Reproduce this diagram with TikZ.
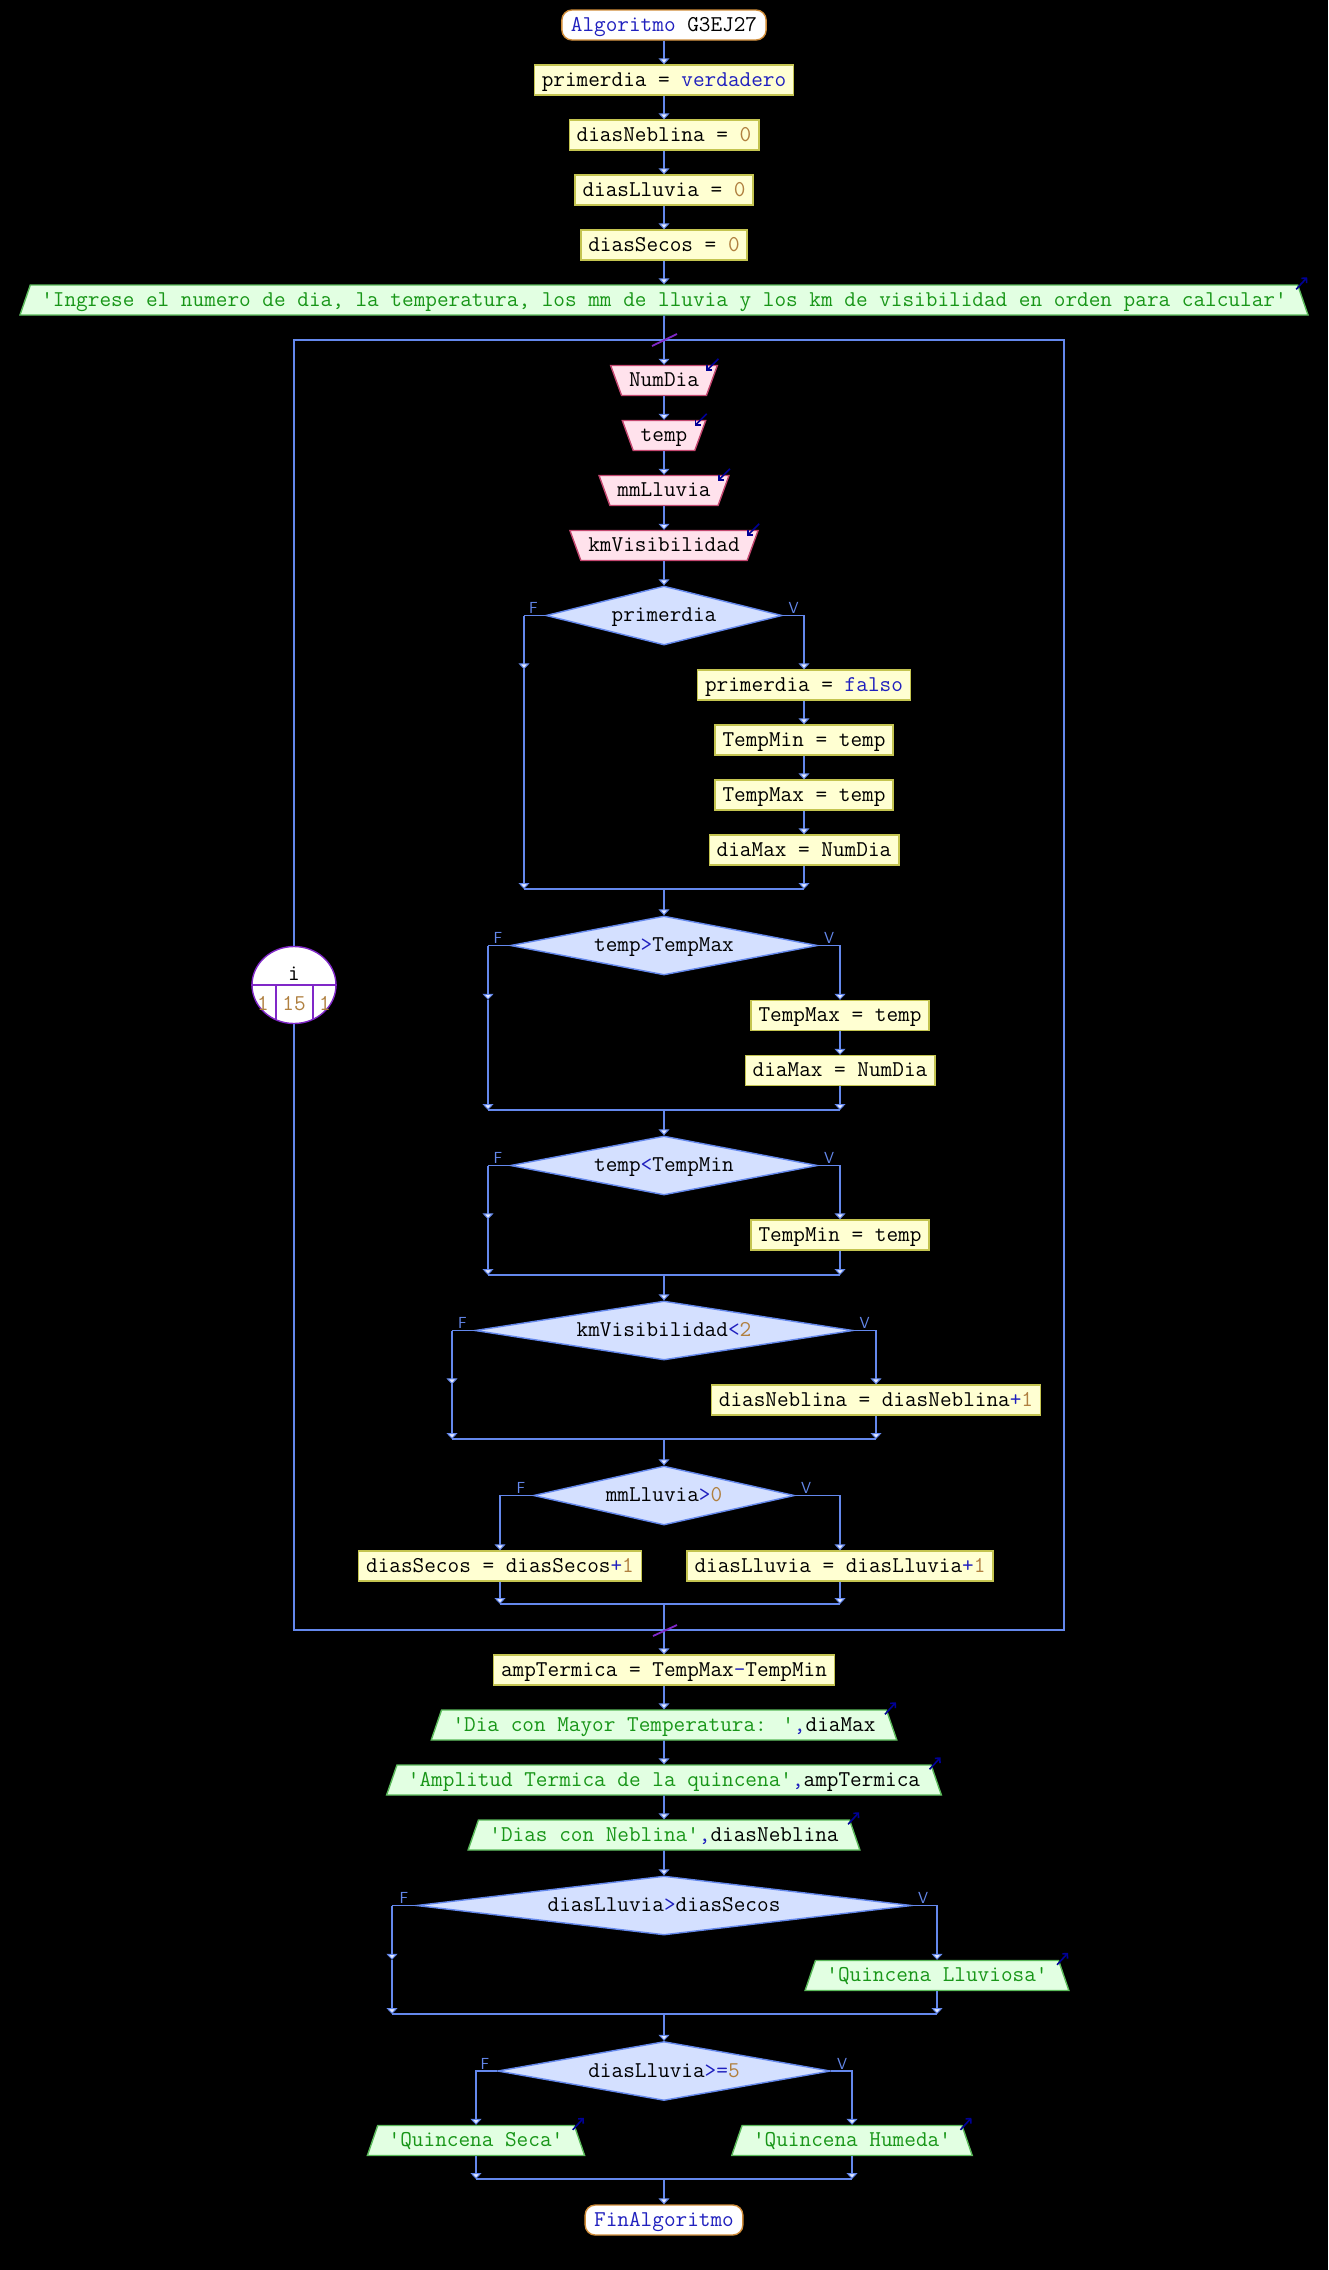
\documentclass[tikz,border=0pt]{standalone}
\usepackage{tikz}
\usetikzlibrary{arrows.meta,shapes.geometric}

\definecolor{linecol}{RGB}{100,136,236}
\definecolor{tipfill}{RGB}{225,232,255}
\definecolor{asgfill}{RGB}{255,255,210}
\definecolor{asgdraw}{RGB}{196,196,80}
\definecolor{infill}{RGB}{255,226,236}
\definecolor{indraw}{RGB}{196,72,112}
\definecolor{outfill}{RGB}{226,255,226}
\definecolor{outdraw}{RGB}{90,186,90}
\definecolor{decfill}{RGB}{212,224,255}
\definecolor{termdraw}{RGB}{208,140,56}
\definecolor{kwblue}{RGB}{32,32,190}
\definecolor{numcol}{RGB}{176,128,64}
\definecolor{strgreen}{RGB}{24,150,24}
\definecolor{loopcol}{RGB}{128,40,200}
\definecolor{iconcol}{RGB}{0,0,150}

\newcommand{\kw}[1]{\textcolor{kwblue}{#1}}
\newcommand{\nm}[1]{\textcolor{numcol}{#1}}
\newcommand{\cad}[1]{\textcolor{strgreen}{\textquotesingle#1\textquotesingle}}
\newcommand{\psfont}{\fontsize{22.6}{26}\selectfont\ttfamily}

\begin{document}
\begin{tikzpicture}[x=1pt,y=-1pt,>={Triangle[width=11pt,length=6pt,fill=tipfill,line width=1pt]},
  node distance=55pt,
  every node/.style={font=\psfont,text height=16pt,text depth=4pt},
  flow/.style={->,draw=linecol,line width=1.8pt},
  line/.style={-,draw=linecol,line width=1.8pt},
  term node/.style={rectangle,rounded corners=10pt,draw=termdraw,fill=white,line width=1.4pt,inner xsep=9pt,inner ysep=5pt},
  assign node/.style={rectangle,draw=asgdraw,fill=asgfill,line width=1.4pt,inner xsep=7.5pt,inner ysep=5pt},
  input node/.style={trapezium,shape border rotate=180,trapezium left angle=70,trapezium right angle=70,
    draw=indraw,fill=infill,line width=1.4pt,inner xsep=7.5pt,inner ysep=5pt},
  output node/.style={trapezium,trapezium left angle=71,trapezium right angle=71,
    draw=outdraw,fill=outfill,line width=1.4pt,inner xsep=11pt,inner ysep=5pt},
  fv/.style={font=\fontsize{16}{18}\selectfont\sffamily,text=linecol,inner sep=0pt},
  cond node/.style={diamond,aspect=6.3,inner sep=0pt,minimum height=59pt,draw=linecol,fill=decfill,line width=1.4pt,
    label={[fv,anchor=base,shift={(-12,-2)}]west:F},label={[fv,anchor=base,shift={(11,-2)}]east:V}},
  loop node/.style={ellipse,draw=loopcol,fill=white,line width=1.4pt,minimum width=84pt,minimum height=77pt,inner sep=0pt},
  loopline/.style={draw=loopcol,line width=1.4pt},
  tick/.style={draw=loopcol,line width=1.8pt},
  icon/.style={draw=iconcol,line width=1.6pt,-{Straight Barb[angle=90:5pt]}}]

  \path[use as bounding box,fill=black] (0,0) rectangle (1328,2270);

  % inicio
  \node[term node]   (start) at (664,25) {\kw{Algoritmo} G3EJ27};
  \node[assign node] (a1) [below of=start] {primerdia = \kw{verdadero}};
  \node[assign node] (a2) [below of=a1] {diasNeblina = \nm{0}};
  \node[assign node] (a3) [below of=a2] {diasLluvia = \nm{0}};
  \node[assign node] (a4) [below of=a3] {diasSecos = \nm{0}};
  \node[output node] (o1) [below of=a4] {\cad{Ingrese el numero de dia, la temperatura, los mm de lluvia y los km de visibilidad en orden para calcular}};

  % ciclo Para
  \coordinate (lt) at (294,340);
  \coordinate (rb) at (1064,1630);
  \coordinate (lx1) at (664,340);
  \coordinate (lx2) at (664,1630);
  \draw[line] (lt) rectangle (rb);
  \node[loop node] (lp) at (294,985) {};
  \draw[loopline] (lp.west) -- (lp.east);
  \draw[loopline] ([shift={(-18,0)}]lp.center) -- ++(0,34.8);
  \draw[loopline] ([shift={(19,0)}]lp.center) -- ++(0,34.3);
  \node (lpvar)  at (294,974)  {i};
  \node (lpini)  at (263,1004) {\nm{1}};
  \node (lpfin)  at (294,1004) {\nm{15}};
  \node (lppaso) at (325,1004) {\nm{1}};

  \node[input node] (e1) at (664,380.5) {NumDia};
  \node[input node] (e2) [below of=e1] {temp};
  \node[input node] (e3) [below of=e2] {mmLluvia};
  \node[input node] (e4) [below of=e3] {kmVisibilidad};

  \node[cond node,minimum width=236pt] (c1) at (664,615.5) {primerdia};
  \node[assign node] (r1) at (804,685) {primerdia = \kw{falso}};
  \node[assign node] (r2) [below of=r1] {TempMin = temp};
  \node[assign node] (r3) [below of=r2] {TempMax = temp};
  \node[assign node] (r4) [below of=r3] {diaMax = NumDia};

  \node[cond node,minimum width=307pt] (c2) at (664,945.5) {temp\kw{>}TempMax};
  \node[assign node] (s1) at (840,1015.5) {TempMax = temp};
  \node[assign node] (s2) [below of=s1] {diaMax = NumDia};

  \node[cond node,minimum width=307pt] (c3) at (664,1165.5) {temp\kw{<}TempMin};
  \node[assign node] (t1) at (840,1235) {TempMin = temp};

  \node[cond node,minimum width=378pt] (c4) at (664,1330.5) {kmVisibilidad\kw{<}\nm{2}};
  \node[assign node] (u1) at (876,1400) {diasNeblina = diasNeblina\kw{+}\nm{1}};

  \node[cond node,minimum width=261pt] (c5) at (664,1495.5) {mmLluvia\kw{>}\nm{0}};
  \node[assign node] (v1) at (500,1566) {diasSecos = diasSecos\kw{+}\nm{1}};
  \node[assign node] (v2) at (840,1566) {diasLluvia = diasLluvia\kw{+}\nm{1}};

  % despues del ciclo
  \node[assign node] (a5) at (664,1670) {ampTermica = TempMax\kw{-}TempMin};
  \node[output node] (o2) [below of=a5] {\cad{Dia con Mayor Temperatura: }\kw{,}diaMax};
  \node[output node] (o3) [below of=o2] {\cad{Amplitud Termica de la quincena}\kw{,}ampTermica};
  \node[output node] (o4) [below of=o3] {\cad{Dias con Neblina}\kw{,}diasNeblina};

  \node[cond node,minimum width=495pt] (c6) at (664,1905.5) {diasLluvia\kw{>}diasSecos};
  \node[output node] (w1) at (937,1975.5) {\cad{Quincena Lluviosa}};

  \node[cond node,minimum width=333pt] (c7) at (664,2071) {diasLluvia\kw{>=}\nm{5}};
  \node[output node] (x1) at (476,2140.5) {\cad{Quincena Seca}};
  \node[output node] (x2) at (852,2140.5) {\cad{Quincena Humeda}};

  \node[term node] (end) at (664,2220) {\kw{FinAlgoritmo}};

  % flechas rectas
  \path[flow] (start) edge (a1) (a1) edge (a2) (a2) edge (a3) (a3) edge (a4) (a4) edge (o1)
    (o1) edge (e1) (e1) edge (e2) (e2) edge (e3) (e3) edge (e4) (e4) edge (c1)
    (a5) edge (o2) (o2) edge (o3) (o3) edge (o4) (o4) edge (c6);

  % si primerdia
  \coordinate (f1) at (524,615.5);
  \coordinate (m1) at (664,889);
  \draw[line] (c1.west) -- (f1);
  \draw[flow] (f1) -- (f1 |- r1.north);
  \draw[flow] (f1 |- r1.north) -- (f1 |- m1);
  \draw[flow] (c1.east) -| (r1.north);
  \path[flow] (r1) edge (r2) (r2) edge (r3) (r3) edge (r4);
  \draw[flow] (r4) -- (r4 |- m1);
  \draw[line] (f1 |- m1) -- (r4 |- m1);
  \draw[flow] (m1) -- (c2);

  % si temp>TempMax
  \coordinate (f2) at (488,945.5);
  \coordinate (m2) at (664,1110);
  \draw[line] (c2.west) -- (f2);
  \draw[flow] (f2) -- (f2 |- s1.north);
  \draw[flow] (f2 |- s1.north) -- (f2 |- m2);
  \draw[flow] (c2.east) -| (s1.north);
  \path[flow] (s1) edge (s2);
  \draw[flow] (s2) -- (s2 |- m2);
  \draw[line] (f2 |- m2) -- (s2 |- m2);
  \draw[flow] (m2) -- (c3);

  % si temp<TempMin
  \coordinate (f3) at (488,1165.5);
  \coordinate (m3) at (664,1275);
  \draw[line] (c3.west) -- (f3);
  \draw[flow] (f3) -- (f3 |- t1.north);
  \draw[flow] (f3 |- t1.north) -- (f3 |- m3);
  \draw[flow] (c3.east) -| (t1.north);
  \draw[flow] (t1) -- (t1 |- m3);
  \draw[line] (f3 |- m3) -- (t1 |- m3);
  \draw[flow] (m3) -- (c4);

  % si kmVisibilidad<2
  \coordinate (f4) at (452,1330.5);
  \coordinate (m4) at (664,1439);
  \draw[line] (c4.west) -- (f4);
  \draw[flow] (f4) -- (f4 |- u1.north);
  \draw[flow] (f4 |- u1.north) -- (f4 |- m4);
  \draw[flow] (c4.east) -| (u1.north);
  \draw[flow] (u1) -- (u1 |- m4);
  \draw[line] (f4 |- m4) -- (u1 |- m4);
  \draw[flow] (m4) -- (c5);

  % si mmLluvia>0
  \coordinate (m5) at (664,1604);
  \draw[flow] (c5.west) -| (v1.north);
  \draw[flow] (c5.east) -| (v2.north);
  \draw[flow] (v1) -- (v1 |- m5);
  \draw[flow] (v2) -- (v2 |- m5);
  \draw[line] (v1 |- m5) -- (v2 |- m5);
  \draw[flow] (m5) -- (a5);

  % si diasLluvia>diasSecos
  \coordinate (f6) at (392,1905.5);
  \coordinate (m6) at (664,2014);
  \draw[line] (c6.west) -- (f6);
  \draw[flow] (f6) -- (f6 |- w1.north);
  \draw[flow] (f6 |- w1.north) -- (f6 |- m6);
  \draw[flow] (c6.east) -| (w1.north);
  \draw[flow] (w1) -- (w1 |- m6);
  \draw[line] (f6 |- m6) -- (w1 |- m6);
  \draw[flow] (m6) -- (c7);

  % si diasLluvia>=5
  \coordinate (m7) at (664,2179);
  \draw[flow] (c7.west) -| (x1.north);
  \draw[flow] (c7.east) -| (x2.north);
  \draw[flow] (x1) -- (x1 |- m7);
  \draw[flow] (x2) -- (x2 |- m7);
  \draw[line] (x1 |- m7) -- (x2 |- m7);
  \draw[flow] (m7) -- (end);

  % marcas del ciclo
  \draw[tick] ([shift={(-12,6)}]lx1) -- ([shift={(13,-6)}]lx1);
  \draw[tick] ([shift={(-11,6)}]lx2) -- ([shift={(13,-5)}]lx2);

  % iconos de lectura y escritura
  \draw[icon] ([shift={(0,-6)}]e1.bottom left corner) -- ++(-12,12);
  \draw[icon] ([shift={(0,-6)}]e2.bottom left corner) -- ++(-12,12);
  \draw[icon] ([shift={(0,-6)}]e3.bottom left corner) -- ++(-12,12);
  \draw[icon] ([shift={(0,-6)}]e4.bottom left corner) -- ++(-12,12);
  \draw[icon] ([shift={(-2,5)}]o1.top right corner) -- ++(11,-12);
  \draw[icon] ([shift={(-2,5)}]o2.top right corner) -- ++(11,-12);
  \draw[icon] ([shift={(-2,5)}]o3.top right corner) -- ++(11,-12);
  \draw[icon] ([shift={(-2,5)}]o4.top right corner) -- ++(11,-12);
  \draw[icon] ([shift={(-2,5)}]w1.top right corner) -- ++(11,-12);
  \draw[icon] ([shift={(-2,5)}]x1.top right corner) -- ++(11,-12);
  \draw[icon] ([shift={(-2,5)}]x2.top right corner) -- ++(11,-12);
\end{tikzpicture}
\end{document}
